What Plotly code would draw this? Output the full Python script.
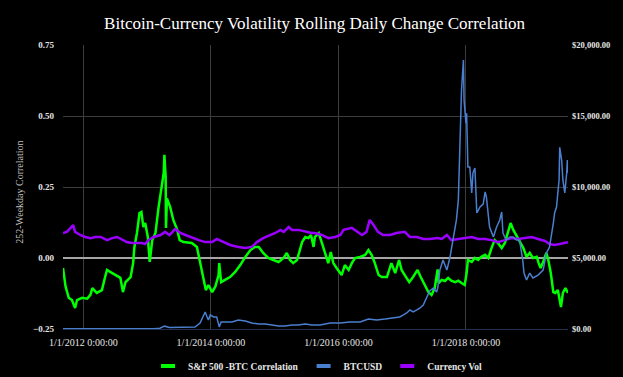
import plotly.graph_objects as go

# ---- data (decimal years) ----
corr_t = [2011.68, 2011.72, 2011.77, 2011.82, 2011.87, 2011.90, 2011.98, 2012.06, 2012.11, 2012.14,
          2012.21, 2012.29, 2012.34, 2012.37, 2012.42, 2012.50, 2012.58, 2012.62, 2012.66, 2012.74,
          2012.78, 2012.80, 2012.84, 2012.88, 2012.91, 2012.94, 2012.97, 2013.01, 2013.04, 2013.08,
          2013.13, 2013.18, 2013.23, 2013.26, 2013.27, 2013.29, 2013.295, 2013.31, 2013.36, 2013.41,
          2013.47, 2013.51, 2013.57, 2013.65, 2013.70, 2013.78, 2013.83, 2013.88, 2013.92, 2013.96,
          2014.02, 2014.07, 2014.12, 2014.13, 2014.16, 2014.22, 2014.30, 2014.38, 2014.46, 2014.54,
          2014.62, 2014.69, 2014.75, 2014.82, 2014.90, 2014.98, 2015.06, 2015.14, 2015.19, 2015.24,
          2015.29, 2015.35, 2015.40, 2015.43, 2015.48, 2015.53, 2015.57, 2015.61, 2015.63, 2015.69,
          2015.74, 2015.79, 2015.84, 2015.88, 2015.92, 2015.97, 2016.05, 2016.10, 2016.16, 2016.21,
          2016.26, 2016.34, 2016.42, 2016.47, 2016.52, 2016.57, 2016.63, 2016.68, 2016.76, 2016.83,
          2016.89, 2016.95, 2016.99, 2017.04, 2017.11, 2017.17, 2017.24, 2017.29, 2017.36, 2017.41,
          2017.46, 2017.51, 2017.555, 2017.57, 2017.62, 2017.67, 2017.72, 2017.77, 2017.83, 2017.88,
          2017.93, 2017.98, 2018.01, 2018.03, 2018.09, 2018.14, 2018.19, 2018.24, 2018.30, 2018.35,
          2018.40, 2018.45, 2018.50, 2018.56, 2018.61, 2018.66, 2018.70, 2018.74, 2018.79, 2018.84,
          2018.90, 2018.95, 2019.00, 2019.05, 2019.11, 2019.14, 2019.17, 2019.21, 2019.26, 2019.29,
          2019.33, 2019.37, 2019.40, 2019.44, 2019.49, 2019.52, 2019.56, 2019.60]
corr_v = [-0.035, -0.100, -0.140, -0.148, -0.176, -0.148, -0.140, -0.143, -0.130, -0.106,
          -0.123, -0.113, -0.067, -0.042, -0.049, -0.060, -0.070, -0.120, -0.085, -0.067,
          -0.018, 0.039, 0.088, 0.158, 0.162, 0.109, 0.123, 0.074, -0.014, 0.063,
          0.088, 0.180, 0.264, 0.300, 0.363, 0.285, 0.106, 0.210, 0.180, 0.134,
          0.100, 0.063, 0.056, 0.053, 0.053, 0.039, -0.018, -0.077, -0.113, -0.095,
          -0.120, -0.100, -0.060, -0.018, -0.085, -0.077, -0.067, -0.049, -0.025, 0.004,
          0.028, 0.039, 0.039, 0.018, 0.000, -0.007, -0.014, 0.000, 0.018, -0.007,
          -0.018, -0.007, 0.028, 0.056, 0.074, 0.070, 0.081, 0.039, 0.074, 0.088,
          0.053, 0.018, -0.018, 0.021, -0.018, -0.035, -0.060, -0.025, -0.042, -0.018,
          0.000, 0.004, 0.011, 0.028, 0.011, -0.018, -0.060, -0.067, -0.067, -0.018,
          -0.053, -0.007, -0.042, -0.060, -0.085, -0.067, -0.042, -0.067, -0.100, -0.120,
          -0.130, -0.106, -0.040, -0.088, -0.077, -0.081, -0.070, -0.080, -0.085, -0.080,
          -0.088, -0.095, -0.053, -0.007, -0.014, 0.000, -0.007, 0.004, 0.011, 0.000,
          0.035, 0.063, 0.053, 0.035, 0.053, 0.088, 0.123, 0.100, 0.081, 0.063,
          0.035, 0.004, 0.018, 0.000, 0.004, -0.018, -0.035, -0.014, 0.018, -0.005,
          -0.053, -0.120, -0.123, -0.113, -0.173, -0.123, -0.106, -0.123]

btc_t = [2011.68, 2012.00, 2012.50, 2012.90, 2013.10, 2013.20, 2013.27, 2013.35, 2013.60, 2013.75,
         2013.83, 2013.88, 2013.91, 2013.94, 2013.96, 2013.99, 2014.04, 2014.09, 2014.13, 2014.16,
         2014.22, 2014.33, 2014.43, 2014.54, 2014.64, 2014.75, 2014.85, 2014.96, 2015.06, 2015.16,
         2015.27, 2015.37, 2015.48, 2015.58, 2015.71, 2015.87, 2016.03, 2016.18, 2016.34, 2016.47,
         2016.60, 2016.73, 2016.86, 2016.96, 2017.02, 2017.07, 2017.12, 2017.17, 2017.23, 2017.28,
         2017.33, 2017.38, 2017.43, 2017.49, 2017.54, 2017.56, 2017.59, 2017.64, 2017.70, 2017.75,
         2017.80, 2017.85, 2017.88, 2017.90, 2017.93, 2017.96, 2017.97, 2018.00, 2018.01, 2018.03,
         2018.06, 2018.09, 2018.11, 2018.14, 2018.17, 2018.22, 2018.27, 2018.30, 2018.32, 2018.37,
         2018.43, 2018.48, 2018.53, 2018.56, 2018.58, 2018.63, 2018.69, 2018.74, 2018.79, 2018.84,
         2018.89, 2018.91, 2018.95, 2019.00, 2019.05, 2019.13, 2019.21, 2019.26, 2019.31, 2019.37,
         2019.39, 2019.42, 2019.46, 2019.47, 2019.50, 2019.52, 2019.55, 2019.58, 2019.59, 2019.60]
btc_v = [10, 5, 7, 13, 20, 60, 200, 110, 100, 140,
         420, 850, 1200, 850, 630, 990, 850, 850, 150, 500,
         500, 500, 630, 560, 420, 350, 350, 280, 210, 210,
         280, 280, 350, 280, 280, 420, 420, 490, 490, 700,
         630, 700, 770, 850, 1000, 1130, 1340, 1200, 1340, 1480,
         1690, 2180, 2680, 2890, 2600, 2960, 4150, 4860, 4150, 5070,
         6270, 7680, 9080, 12100, 16830, 18940, 16100, 14500, 15200, 11400,
         11400, 9580, 11000, 11330, 8170, 8590, 8800, 9650, 9300, 7180,
         6480, 7180, 7680, 8240, 6760, 6270, 6480, 6480, 6270, 6270,
         4860, 3940, 3450, 3940, 3590, 3800, 4150, 5350, 5770, 7460,
         8170, 8590, 10490, 12800, 11900, 10490, 9580, 11000, 11900, 11000]

vol_t = [2011.68, 2011.74, 2011.80, 2011.84, 2011.87, 2011.95, 2012.03, 2012.11, 2012.19, 2012.27,
         2012.37, 2012.45, 2012.53, 2012.61, 2012.68, 2012.76, 2012.84, 2012.92, 2012.97, 2013.02,
         2013.10, 2013.21, 2013.28, 2013.35, 2013.44, 2013.52, 2013.60, 2013.68, 2013.70, 2013.81,
         2013.91, 2014.02, 2014.09, 2014.20, 2014.30, 2014.43, 2014.54, 2014.64, 2014.72, 2014.82,
         2014.93, 2015.01, 2015.09, 2015.14, 2015.22, 2015.27, 2015.37, 2015.48, 2015.58, 2015.63,
         2015.74, 2015.84, 2015.95, 2016.03, 2016.08, 2016.21, 2016.29, 2016.37, 2016.44, 2016.49,
         2016.55, 2016.62, 2016.70, 2016.81, 2016.91, 2017.04, 2017.12, 2017.23, 2017.33, 2017.43,
         2017.56, 2017.62, 2017.70, 2017.77, 2017.88, 2017.98, 2018.09, 2018.19, 2018.30, 2018.40,
         2018.50, 2018.61, 2018.71, 2018.82, 2018.92, 2019.03, 2019.13, 2019.24, 2019.31, 2019.39,
         2019.47, 2019.55, 2019.60]
vol_v = [0.088, 0.092, 0.106, 0.116, 0.092, 0.081, 0.074, 0.070, 0.074, 0.074,
         0.063, 0.070, 0.074, 0.063, 0.056, 0.053, 0.053, 0.053, 0.049, 0.063,
         0.074, 0.081, 0.092, 0.081, 0.102, 0.088, 0.081, 0.074, 0.070, 0.063,
         0.056, 0.056, 0.067, 0.056, 0.046, 0.039, 0.035, 0.039, 0.056, 0.070,
         0.081, 0.088, 0.099, 0.092, 0.109, 0.099, 0.099, 0.092, 0.088, 0.088,
         0.081, 0.070, 0.074, 0.081, 0.099, 0.106, 0.092, 0.081, 0.092, 0.134,
         0.116, 0.092, 0.081, 0.081, 0.088, 0.092, 0.074, 0.074, 0.067, 0.067,
         0.070, 0.067, 0.081, 0.063, 0.067, 0.070, 0.074, 0.067, 0.067, 0.063,
         0.056, 0.063, 0.070, 0.067, 0.070, 0.074, 0.067, 0.060, 0.049, 0.046,
         0.049, 0.053, 0.056]

x_tick_vals = [2012, 2014, 2016, 2018]
x_tick_text = ["1/1/2012 0:00:00", "1/1/2014 0:00:00", "1/1/2016 0:00:00", "1/1/2018 0:00:00"]
y_tick_vals = [-0.25, 0.0, 0.25, 0.5, 0.75]
y2_tick_vals = [0, 5000, 10000, 15000, 20000]
y2_tick_text = ["$0.00", "$5,000.00", "$10,000.00", "$15,000.00", "$20,000.00"]

GREEN = "#00ff00"
BLUE = "#4a7fd0"
PURPLE = "#9b00ff"
SERIF = "Liberation Serif"

fig = go.Figure()
fig.add_trace(go.Scatter(x=corr_t, y=corr_v, mode="lines", name="S&P 500 -BTC Correlation",
                         line=dict(color=GREEN, width=2.5), showlegend=False))
fig.add_trace(go.Scatter(x=btc_t, y=btc_v, mode="lines", name="BTCUSD", yaxis="y2",
                         line=dict(color=BLUE, width=1.5), showlegend=False))
fig.add_trace(go.Scatter(x=vol_t, y=vol_v, mode="lines", name="Currency Vol",
                         line=dict(color=PURPLE, width=2.5), showlegend=False))

# legend entries (short thick bars like the original)
for name, col in [("S&P 500 -BTC Correlation", GREEN), ("BTCUSD", BLUE), ("Currency Vol", PURPLE)]:
    fig.add_trace(go.Scatter(x=[None], y=[None], mode="markers", name=name,
                             marker=dict(symbol="line-ew", size=10,
                                         line=dict(color=col, width=4))))

fig.update_layout(
    width=623, height=377,
    paper_bgcolor="black", plot_bgcolor="black",
    margin=dict(l=63, r=55, t=45, b=48, autoexpand=False),
    font=dict(family=SERIF, color="#e6e6e6", size=10),
    title=dict(text="Bitcoin-Currency Volatility Rolling Daily Change Correlation",
               x=0.505, xanchor="center", y=1 - 23 / 377, yanchor="middle",
               font=dict(family=SERIF, size=17, color="white")),
    xaxis=dict(range=[2011.68, 2019.60], tickvals=x_tick_vals, ticktext=x_tick_text,
               showgrid=True, gridcolor="#3c3c3c", gridwidth=1, zeroline=False,
               showline=True, linecolor="#1f2f4f", linewidth=1, automargin=False,
               tickfont=dict(size=10, color="#e6e6e6"), ticklabelstandoff=4),
    yaxis=dict(range=[-0.25, 0.75], tickvals=y_tick_vals, tickformat=".2f",
               showgrid=True, gridcolor="#3c3c3c", gridwidth=1, automargin=False,
               zeroline=True, zerolinecolor="#a6a6a6", zerolinewidth=1.5,
               tickfont=dict(size=9, color="#e6e6e6", weight="bold"), ticklabelstandoff=8),
    yaxis2=dict(range=[0, 20000], tickvals=y2_tick_vals, ticktext=y2_tick_text,
                overlaying="y", side="right", showgrid=False, zeroline=False, automargin=False,
                tickfont=dict(size=8.5, color="#e6e6e6", weight="bold"), ticklabelstandoff=3),
    legend=dict(orientation="h", x=0.505, xanchor="center", y=-0.13, yanchor="middle",
                font=dict(size=9.5, color="#e6e6e6", weight="bold"),
                itemwidth=30, bgcolor="rgba(0,0,0,0)"),
    annotations=[dict(text="252-Weekday Correlation", textangle=-90, showarrow=False,
                      xref="paper", yref="paper", x=-0.085, y=0.48,
                      xanchor="center", yanchor="middle",
                      font=dict(family=SERIF, size=10, color="#bfbfbf"))],
)

fig.write_html("out.html", config={"displayModeBar": False},
               post_script="document.body.style.margin='0';document.body.style.background='black';")
